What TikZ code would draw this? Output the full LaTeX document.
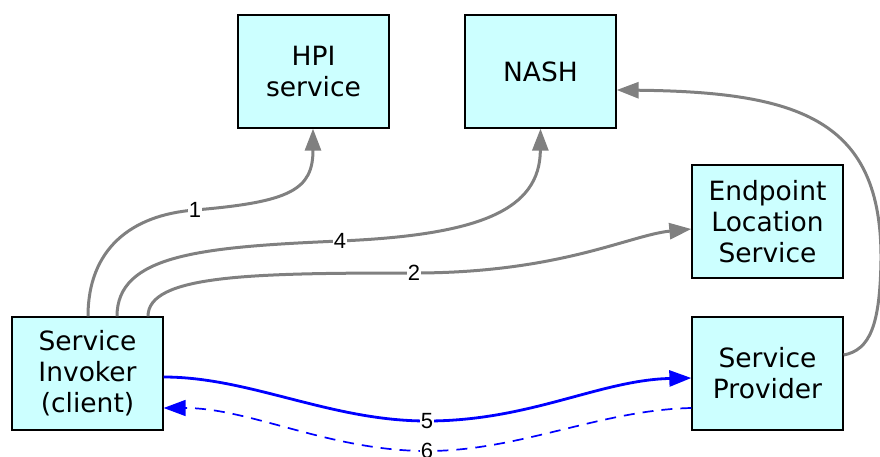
\documentclass[tikz,border=0pt]{standalone}
\usepackage{fontspec}
\setmainfont{DejaVu Sans}
\newfontfamily\labfont{Liberation Sans}
\usetikzlibrary{arrows.meta}
\definecolor{boxfill}{HTML}{CCFFFF}
\definecolor{edgegray}{HTML}{808080}
\definecolor{edgeblue}{HTML}{0000FF}
\begin{document}
\begin{tikzpicture}[x=1pt,y=-1pt,
  box/.style={draw=black, line width=1.3pt, fill=boxfill, minimum width=151pt,
    minimum height=113pt, inner sep=0pt, align=center,
    font=\fontsize{26.5}{31}\selectfont},
  gedge/.style={draw=edgegray, line width=3pt, -{Triangle[length=22pt,width=16pt]}},
  bedge/.style={draw=edgeblue, line width=2.8pt, -{Triangle[length=22pt,width=16pt]}},
  bdash/.style={draw=edgeblue, line width=1.7pt, dash pattern=on 11pt off 8pt,
    -{Triangle[length=22pt,width=16pt]}},
  lab/.style={fill=white, inner sep=0.5pt, text=black, font=\fontsize{22}{22}\labfont}
]
\useasboundingbox (0,0) rectangle (880,457);

\node[box] (hpi)  at (313.5,71.5)  {HPI\\service};
\node[box] (nash) at (540.5,71.5)  {NASH};
\node[box] (els)  at (767.5,221.5) {Endpoint\\Location\\Service};
\node[box] (si)   at (87.5,373.5)  {Service\\Invoker\\(client)};
\node[box] (sp)   at (767.5,373.5) {Service\\Provider};

% 1
\draw[gedge] ([xshift=0.5pt]si.north) .. controls (88,250) and (130,215) .. (195,210) node[lab] {1}
  .. controls (290,202) and (313,190) .. ([xshift=-0.5pt]hpi.south);
% 4
\draw[gedge] ([xshift=29.5pt]si.north) .. controls (117,255) and (200,247) .. (340,241) node[lab] {4}
  .. controls (480,235) and (540,210) .. (nash.south);
% 2
\draw[gedge] ([xshift=60.5pt]si.north) .. controls (148,275) and (250,273) .. (414,273) node[lab] {2}
  .. controls (560,273) and (630,235) .. ([yshift=-7.5pt]els.west);
% return to NASH
\draw[gedge] ([yshift=18.5pt]sp.east) .. controls (870,350) and (880,325) .. (881,260)
  .. controls (882,120) and (800,92) .. ([yshift=-18.5pt]nash.east);
% 5
\draw[bedge] ([yshift=-3.5pt]si.east) .. controls (250,377) and (330,421) .. (427,421) node[lab] {5}
  .. controls (530,421) and (600,380) .. ([yshift=-4.5pt]sp.west);
% 6
\draw[bdash] ([yshift=-34.5pt]sp.west) .. controls (600,410) and (520,451) .. (427,451) node[lab] {6}
  .. controls (330,451) and (250,408) .. ([yshift=-34.5pt]si.east);
\end{tikzpicture}
\end{document}
